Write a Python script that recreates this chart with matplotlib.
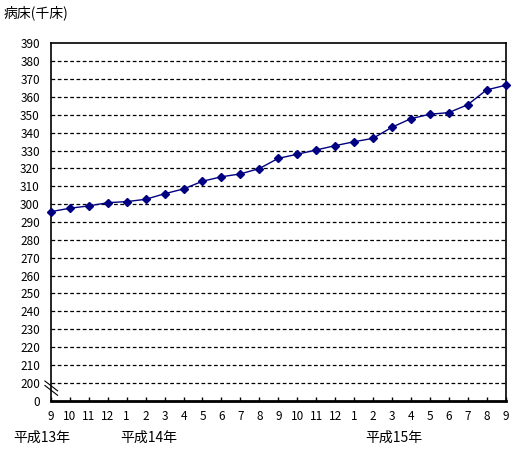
import numpy as np
import matplotlib
matplotlib.use('Agg')
import matplotlib.pyplot as plt

plt.rcParams['font.family'] = ['Noto Sans CJK JP', 'DejaVu Sans']

# monthly values, H13/9 .. H15/9 (thousand beds)
months = ['9', '10', '11', '12', '1', '2', '3', '4', '5', '6', '7', '8',
          '9', '10', '11', '12', '1', '2', '3', '4', '5', '6', '7', '8', '9']
beds = [295.8, 297.7, 299.0, 300.8, 301.4, 302.7, 305.8, 308.5, 312.8,
        315.3, 316.9, 319.9, 325.6, 327.9, 330.3, 332.7, 334.9, 336.8,
        343.0, 347.8, 350.3, 351.2, 355.6, 363.9, 366.5]
ytick_labels = ['0'] + [str(v) for v in range(200, 400, 10)]
era_labels = ['平成13年', '平成14年', '平成15年']

# broken axis: 0 at slot 0, 200..390 in slots 1..20
def to_slot(v):
    return (np.asarray(v) - 190) / 10.0

fig = plt.figure(figsize=(5.13, 4.5), dpi=100)
ax = fig.add_axes([0.0994, 0.1096, 0.886, 0.7942])

x = np.arange(len(months))
ax.plot(x, to_slot(beds), color='#000080', lw=1, marker='D', ms=4.5,
        markerfacecolor='#000080', markeredgecolor='#000080', clip_on=False, zorder=3)

ax.set_xlim(0, len(months) - 1)
ax.set_ylim(0, 20)
ax.set_yticks(range(21))
ax.set_yticklabels(ytick_labels, fontsize=8.5)
ax.set_xticks(x)
ax.set_xticklabels(months, fontsize=8.5)
ax.tick_params(axis='y', length=0, pad=8)
ax.tick_params(axis='x', direction='in', length=3, width=1, pad=7)

for s in range(1, 20):
    ax.axhline(s, color='black', lw=0.9, ls=(0, (3, 2)), zorder=1)

for side in ['top', 'right', 'left']:
    ax.spines[side].set_linewidth(1.2)
ax.spines['bottom'].set_linewidth(2)

# break mark
for dy in (0, 0.25):
    ax.plot([-0.32, 0.35], [0.75 - dy + 0.35, 0.75 - dy - 0.2], color='black',
            lw=0.8, clip_on=False, zorder=4)

fig.text(0.006, 0.972, '病床(千床)', fontsize=10, va='center', ha='left')
fig.text(0.082, 0.027, era_labels[0], fontsize=10, va='center', ha='center')
fig.text(0.289, 0.027, era_labels[1], fontsize=10, va='center', ha='center')
fig.text(0.767, 0.027, era_labels[2], fontsize=10, va='center', ha='center')

fig.savefig('out.png', dpi=100)
